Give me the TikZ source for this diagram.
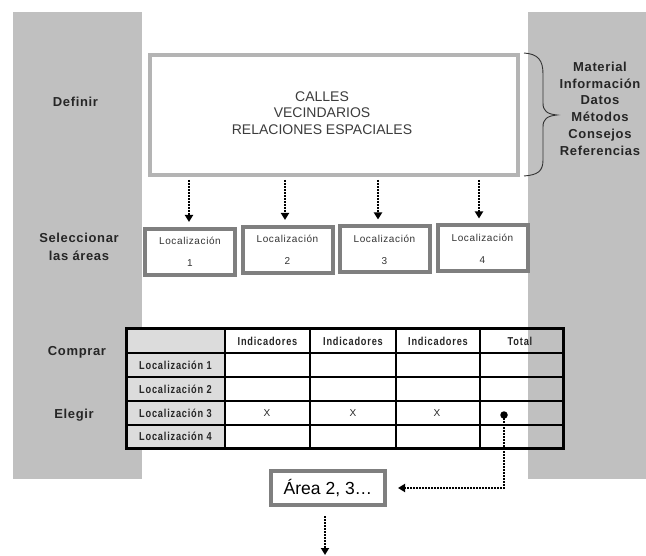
\documentclass[tikz,border=0pt]{standalone}
\usepackage{fontspec}
\setmainfont{Liberation Sans}
\newfontfamily\lblfont[LetterSpace=5]{Liberation Sans}
\newfontfamily\locfont[LetterSpace=6]{Liberation Sans}
\newfontfamily\tabfont[FakeStretch=0.8,LetterSpace=7]{Liberation Sans}
\usetikzlibrary{arrows.meta}
\definecolor{panel}{HTML}{C0C0C0}
\definecolor{frameA}{HTML}{B4B4B4}
\definecolor{frameB}{HTML}{7F7F7F}
\definecolor{cellgray}{HTML}{DCDCDC}
\definecolor{ink}{HTML}{3C3C3C}

\begin{document}
\begin{tikzpicture}[x=1pt,y=-1pt,
  sidelabel/.style={font=\lblfont\bfseries\fontsize{13}{17.5}\selectfont, align=center, text=black!85, inner sep=0pt},
  locbox/.style={draw=frameB, line width=4pt, fill=white, minimum width=90pt, minimum height=46pt,
    inner sep=0pt, align=center, font=\locfont\fontsize{10}{22}\selectfont, text=black!80},
  dotarrow/.style={line width=2.5pt, dash pattern=on 1.6pt off 1.4pt, -{Triangle[width=8pt,length=7pt]}},
  cell/.style={font=\tabfont\bfseries\fontsize{11.5}{12}\selectfont, inner sep=0pt, text=black!85},
  xmark/.style={font=\fontsize{10}{12}\selectfont, inner sep=0pt, text=black!85},
]
\useasboundingbox (0,0) rectangle (646,556);

% side panels
\fill[panel] (13,12) rectangle (142,479);
\fill[panel] (528,12) rectangle (646,479);

% main definition box
\node[draw=frameA, line width=4pt, fill=white, minimum width=368pt, minimum height=120pt] (main) at (334,115) {};
\node[font=\fontsize{14}{16.5}\selectfont, text=ink, align=center, inner sep=0pt] (topics) at (322,113)
  {CALLES\\VECINDARIOS\\RELACIONES ESPACIALES};

% brace and resources
\draw[line width=0.9pt, black!80] (524,53) .. controls (538,54) and (543,60) .. (543,74) -- (543,103)
  .. controls (543,111) and (547,114) .. (557,115) .. controls (547,116) and (543,119) .. (543,127)
  -- (543,160) .. controls (543,171) and (538,175) .. (524,176);
\node[sidelabel, font=\lblfont\bfseries\fontsize{13}{16.8}\selectfont] (res) at (600,108.7)
  {Material\\Información\\Datos\\Métodos\\Consejos\\Referencias};

% step labels
\node[sidelabel] (definir) at (75.5,102) {Definir};
\node[sidelabel] (selec) at (79,247) {Seleccionar\\las áreas};
\node[sidelabel] (comprar) at (77,352) {Comprar};
\node[sidelabel] (elegir) at (74,415) {Elegir};

% candidate locations
\node[locbox] (loc1) at (190,252) {Localización\\1};
\node[locbox] (loc2) at (287.5,250) {Localización\\2};
\node[locbox] (loc3) at (384.5,249.5) {Localización\\3};
\node[locbox] (loc4) at (482.5,248.5) {Localización\\4};

\foreach \i/\dx in {1/-1,2/-2.5,3/-6.5,4/-3.5}
  \draw[dotarrow, shorten <=3pt, shorten >=5pt] ([xshift=\dx pt]main.south -| loc\i.north) -- ([xshift=\dx pt]loc\i.north);

% comparison table
\fill[cellgray] (126,329) rectangle (225,448);
\draw[line width=1.8pt]
  (225,329) -- (225,448) (310,329) -- (310,448) (396,329) -- (396,448) (480,329) -- (480,448)
  (126,353) -- (563,353) (126,377) -- (563,377) (126,401) -- (563,401) (126,425) -- (563,425);
\draw[line width=3pt] (126,329) rectangle (563,448);

\node[cell] (h1) at (267.5,341) {Indicadores};
\node[cell] (h2) at (353,341) {Indicadores};
\node[cell] (h3) at (438,341) {Indicadores};
\node[cell] (h4) at (520,341) {Total};
\node[cell] (r1) at (175.5,365) {Localización 1};
\node[cell] (r2) at (175.5,389) {Localización 2};
\node[cell] (r3) at (175.5,413) {Localización 3};
\node[cell] (r4) at (175.5,436.5) {Localización 4};
\node[xmark] (x1) at (267,413) {X};
\node[xmark] (x2) at (353,413) {X};
\node[xmark] (x3) at (437,413) {X};
\node[circle, fill=black, inner sep=0pt, minimum size=7.5pt] (sel) at (504,415) {};

% chosen area
\node[draw=frameB, line width=4pt, fill=white, minimum width=114pt, minimum height=34pt,
  inner sep=0pt, font=\fontsize{17.5}{20}\selectfont] (area) at (328,488) {Área 2, 3…};

\draw[dotarrow, shorten >=11pt] (sel.center) |- (area.east);
\coordinate (exit) at (325,555);
\draw[dotarrow, shorten <=9pt] (area.south -| exit) -- (exit);
\end{tikzpicture}
\end{document}
